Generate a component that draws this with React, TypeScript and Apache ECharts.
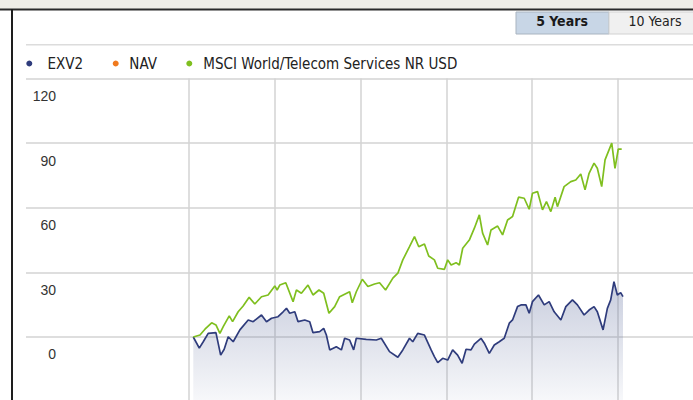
import React, { useEffect, useRef } from "react";
import * as echarts from "echarts";

// Time positions as decimal years, values in %
const exvYears = [2010.05, 2010.12, 2010.166, 2010.224, 2010.314, 2010.369, 2010.41, 2010.457, 2010.515, 2010.593, 2010.69, 2010.748, 2010.845, 2010.903, 2010.962, 2011.038, 2011.097, 2011.136, 2011.174, 2011.233, 2011.271, 2011.349, 2011.407, 2011.445, 2011.523, 2011.57, 2011.601, 2011.64, 2011.717, 2011.776, 2011.814, 2011.872, 2011.919, 2011.95, 2012.066, 2012.183, 2012.241, 2012.337, 2012.434, 2012.492, 2012.57, 2012.608, 2012.666, 2012.744, 2012.822, 2012.86, 2012.899, 2012.957, 2013.015, 2013.073, 2013.131, 2013.183, 2013.229, 2013.287, 2013.326, 2013.403, 2013.442, 2013.5, 2013.558, 2013.616, 2013.674, 2013.733, 2013.771, 2013.829, 2013.869, 2013.927, 2013.965, 2014.003, 2014.073, 2014.14, 2014.198, 2014.256, 2014.334, 2014.392, 2014.469, 2014.527, 2014.605, 2014.663, 2014.721, 2014.759, 2014.826, 2014.876, 2014.915, 2014.953, 2014.992, 2015.031, 2015.058];
const exvValues = [0, -5.2, -2.2, 1.7, 2.0, -8.4, -5.7, 0.1, -2.2, 3.3, 7.9, 7.1, 10.2, 7.1, 8.7, 9.4, 11.7, 13.3, 11.0, 11.7, 7.1, 7.9, 7.1, 2.0, 2.5, 4.0, 0.9, -6.0, -4.5, -6.0, -0.6, -1.4, -6.0, -0.6, -1.1, -1.4, -0.6, -6.8, -9.4, -6.0, -0.6, -2.2, 1.7, 0.9, -6.0, -9.1, -11.9, -9.9, -10.7, -6.0, -8.4, -12.2, -5.7, -6.0, -3.3, -0.6, -2.9, -7.6, -3.7, -2.2, -0.6, 6.4, 7.9, 14.1, 14.9, 14.9, 11.0, 16.4, 19.5, 14.9, 16.4, 11.7, 7.9, 14.1, 17.2, 14.9, 10.2, 12.5, 14.1, 11.7, 3.3, 13.3, 17.2, 25.7, 19.5, 20.6, 18.7];

const msciYears = [2010.05, 2010.128, 2010.186, 2010.264, 2010.314, 2010.36, 2010.399, 2010.469, 2010.508, 2010.573, 2010.631, 2010.701, 2010.767, 2010.845, 2010.922, 2011.0, 2011.027, 2011.058, 2011.128, 2011.213, 2011.252, 2011.31, 2011.387, 2011.445, 2011.515, 2011.57, 2011.631, 2011.698, 2011.756, 2011.872, 2011.903, 2011.95, 2012.02, 2012.085, 2012.163, 2012.221, 2012.291, 2012.376, 2012.434, 2012.492, 2012.57, 2012.628, 2012.678, 2012.744, 2012.794, 2012.86, 2012.899, 2012.977, 2013.015, 2013.055, 2013.113, 2013.151, 2013.19, 2013.267, 2013.326, 2013.384, 2013.422, 2013.48, 2013.52, 2013.597, 2013.655, 2013.713, 2013.771, 2013.841, 2013.907, 2013.965, 2014.003, 2014.062, 2014.12, 2014.166, 2014.217, 2014.267, 2014.294, 2014.372, 2014.45, 2014.508, 2014.566, 2014.616, 2014.663, 2014.721, 2014.759, 2014.81, 2014.849, 2014.927, 2014.965, 2015.003, 2015.043];
const msciValues = [0, 0.9, 3.6, 6.6, 5.6, 1.7, 4.8, 9.8, 7.1, 11.7, 14.4, 18.4, 15.3, 18.7, 19.5, 23.7, 21.8, 24.1, 25.2, 16.4, 21.8, 20.3, 24.1, 19.5, 21.8, 20.3, 11.0, 14.1, 18.7, 21.0, 15.9, 21.0, 26.8, 23.4, 24.6, 25.2, 21.8, 27.3, 29.6, 35.8, 41.9, 46.6, 41.9, 43.2, 37.6, 35.8, 31.9, 31.4, 35.8, 33.4, 34.5, 33.4, 41.2, 45.0, 50.5, 56.7, 48.2, 42.7, 49.7, 51.5, 47.4, 54.3, 55.9, 64.9, 64.4, 59.3, 66.7, 67.5, 59.0, 62.8, 58.2, 64.9, 60.5, 69.8, 72.1, 72.9, 75.7, 68.3, 76.0, 80.7, 78.3, 69.8, 82.2, 90.0, 78.3, 87.2, 87.2];

const navValues: number[] = [];

const seriesNames = ["EXV2", "NAV", "MSCI World/Telecom Services NR USD"];
const seriesColors = ["#2f3c7c", "#f07a1e", "#7fbf1f"];
const yTicks = { min: -30, max: 120, step: 30 };
const xRange = { min: 2010, max: 2016, step: 1 };
const rangeButtons = ["5 Years", "10 Years"];

const FONT = "'DejaVu Sans Condensed', 'DejaVu Sans', sans-serif";
const NUMFONT = "'Liberation Sans Narrow', 'Liberation Sans', Arial, sans-serif";

export default function App() {
  const ref = useRef<HTMLDivElement>(null);
  useEffect(() => {
    document.body.style.margin = "0";
    const chart = echarts.init(ref.current!, null, { renderer: "svg" });
    const pair = (xs: number[], ys: number[]) => xs.map((x, i) => [x, ys[i]]);
    const legendX = [29.3, 115.7, 189.3];
    const legendTextX = [47.5, 129.3, 203.3];
    const option: any = {
      animation: false,
      backgroundColor: "#ffffff",
      grid: [
        { left: 26, right: 0, top: 78.5, height: 323.1, outerBoundsMode: "none", containLabel: false },
        { left: 189, width: 514.8, top: 78.5, height: 323.1, outerBoundsMode: "none", containLabel: false },
      ],
      xAxis: [
        { gridIndex: 0, type: "value", min: 0, max: 1, show: false },
        {
          gridIndex: 1,
          type: "value",
          min: xRange.min,
          max: xRange.max,
          interval: xRange.step,
          axisLine: { show: false },
          axisTick: { show: false },
          axisLabel: { show: false },
          splitLine: { show: true, lineStyle: { color: "#d3d3d3", width: 1.5 } },
        },
      ],
      yAxis: [
        {
          gridIndex: 0,
          type: "value",
          min: yTicks.min,
          max: yTicks.max,
          interval: yTicks.step,
          axisLine: { show: false },
          axisTick: { show: false },
          splitLine: { show: true, lineStyle: { color: "#d3d3d3", width: 1.5 } },
          axisLabel: {
            inside: true,
            margin: 30,
            align: "right",
            verticalAlign: "top",
            lineHeight: 35,
            showMinLabel: false,
            color: "#333",
            fontSize: 14,
            fontFamily: NUMFONT,
          },
        },
        { gridIndex: 1, type: "value", min: yTicks.min, max: yTicks.max, interval: yTicks.step, show: false },
      ],
      series: [
        {
          name: seriesNames[0],
          type: "line",
          xAxisIndex: 1,
          yAxisIndex: 1,
          data: pair(exvYears, exvValues),
          showSymbol: false,
          z: 3,
          lineStyle: { color: seriesColors[0], width: 1.7 },
          itemStyle: { color: seriesColors[0] },
          areaStyle: {
            origin: "start",
            color: new echarts.graphic.LinearGradient(0, 0, 0, 1, [
              { offset: 0, color: "rgba(100,114,160,0.5)" },
              { offset: 1, color: "rgba(100,114,160,0.07)" },
            ]),
          },
        },
        {
          name: seriesNames[1],
          type: "line",
          xAxisIndex: 1,
          yAxisIndex: 1,
          data: navValues,
          showSymbol: false,
          lineStyle: { color: seriesColors[1] },
        },
        {
          name: seriesNames[2],
          type: "line",
          xAxisIndex: 1,
          yAxisIndex: 1,
          data: pair(msciYears, msciValues),
          showSymbol: false,
          z: 4,
          lineStyle: { color: seriesColors[2], width: 1.7 },
          itemStyle: { color: seriesColors[2] },
        },
      ],
      graphic: [
        { type: "rect", shape: { x: 0, y: 0, width: 693, height: 9 }, style: { fill: "#efeee7" }, silent: true },
        { type: "rect", shape: { x: 0, y: 8.5, width: 693, height: 2 }, style: { fill: "#2a2a2a" }, silent: true },
        { type: "rect", shape: { x: 11, y: 9, width: 2, height: 391 }, style: { fill: "#1e1e1e" }, silent: true },
        // range buttons
        { type: "rect", shape: { x: 516, y: 12, width: 93, height: 22 }, style: { fill: "#c8d6e6", stroke: "#a9b4c0", lineWidth: 1 }, silent: true },
        { type: "rect", shape: { x: 609, y: 12, width: 90, height: 22 }, style: { fill: "#f0f0f0", stroke: "#d2d2d2", lineWidth: 1 }, silent: true },
        {
          type: "text",
          x: 562,
          y: 21,
          style: { text: rangeButtons[0], fill: "#1a1a1a", font: `bold 14px ${FONT}`, align: "center", verticalAlign: "middle" },
        },
        {
          type: "text",
          x: 655,
          y: 21,
          style: { text: rangeButtons[1], fill: "#222", font: `14px ${FONT}`, align: "center", verticalAlign: "middle" },
        },
        { type: "rect", shape: { x: 26, y: 44, width: 667, height: 1.5 }, style: { fill: "#dcdcdc" }, silent: true },
        // legend
        ...seriesNames.flatMap((n, i) => [
          { type: "circle", shape: { cx: legendX[i], cy: 63.5, r: 3 }, style: { fill: seriesColors[i] }, silent: true },
          {
            type: "text",
            x: legendTextX[i],
            y: 64,
            style: { text: n, fill: "#222", font: `15px ${FONT}`, verticalAlign: "middle" },
          },
        ]),
      ],
    };
    chart.setOption(option);
    return () => chart.dispose();
  }, []);
  return <div ref={ref} style={{ width: 693, height: 400 }} />;
}
